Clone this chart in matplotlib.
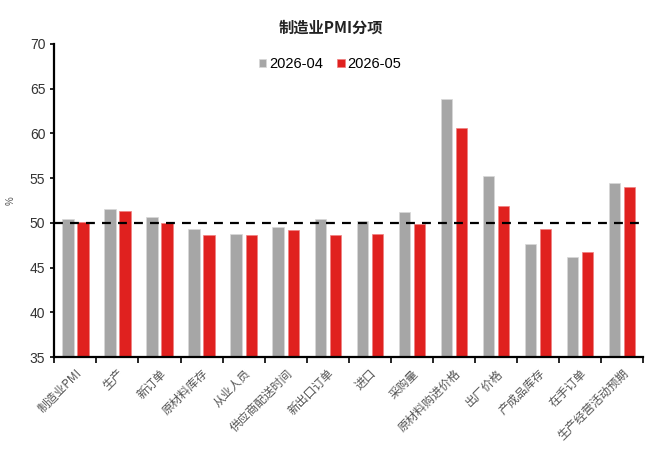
import matplotlib
matplotlib.use("Agg")
import matplotlib.pyplot as plt
import numpy as np

plt.rcParams["font.family"] = ["Liberation Sans", "Noto Sans CJK SC", "DejaVu Sans"]

categories = [
    "制造业PMI", "生产", "新订单", "原材料库存", "从业人员", "供应商配送时间",
    "新出口订单", "进口", "采购量", "原材料购进价格", "出厂价格", "产成品库存",
    "在手订单", "生产经营活动预期",
]
apr = [50.4, 51.6, 50.7, 49.3, 48.8, 49.6, 50.4, 50.2, 51.2, 63.8, 55.2, 47.6, 46.2, 54.5]
may = [50.1, 51.3, 50.0, 48.7, 48.7, 49.2, 48.7, 48.8, 49.9, 60.6, 51.9, 49.3, 46.8, 54.0]
series_labels = ["2026-04", "2026-05"]
title = "制造业PMI分项"

fig, ax = plt.subplots(figsize=(6.55, 4.58), dpi=100)
fig.subplots_adjust(left=0.083, right=0.982, top=0.904, bottom=0.22)

x = np.arange(len(categories))
w = 0.27
ax.bar(x - 0.18, apr, w, color="#A6A6A6", edgecolor="#D8D8D8", linewidth=0.5,
       label=series_labels[0], zorder=2)
ax.bar(x + 0.18, may, w, color="#E0211F", edgecolor="#F08080", linewidth=0.5,
       label=series_labels[1], zorder=2)
ax.axhline(50, color="black", linestyle=(0, (4, 3.2)), linewidth=1.6, zorder=3)

ax.set_ylim(35, 70)
ax.set_xlim(-0.5, len(categories) - 0.5)
ax.set_yticks(np.arange(35, 71, 5))
ax.tick_params(axis="y", labelsize=10, direction="out", length=3, width=1.2, labelcolor="#333333")
ax.set_xticks(np.arange(-0.5, len(categories), 1))
ax.set_xticklabels([])
ax.tick_params(axis="x", direction="out", length=4, width=1.2)
ax.set_xticks(x, minor=True)
ax.set_xticklabels(categories, minor=True, rotation=45, ha="right",
                   rotation_mode="anchor", fontsize=8.5, color="#555555",
                   family=["Noto Sans CJK SC", "DejaVu Sans"])
ax.tick_params(axis="x", which="minor", length=0, pad=7)

for s in ["top", "right"]:
    ax.spines[s].set_visible(False)
for s in ["left", "bottom"]:
    ax.spines[s].set_linewidth(1.6)

ax.set_ylabel("%", fontsize=7, color="#555555", labelpad=10)

fig.text(0.505, 0.94, title, ha="center", va="center", fontsize=11,
         fontweight="bold", family=["Noto Sans CJK SC", "DejaVu Sans"], color="#222222")

leg = ax.legend(loc="upper center", bbox_to_anchor=(0.468, 1.0), ncol=2, frameon=False,
                fontsize=10.5, handlelength=0.5, handleheight=0.5, handletextpad=0.2,
                columnspacing=1.0)

fig.savefig("out.png", dpi=100)
